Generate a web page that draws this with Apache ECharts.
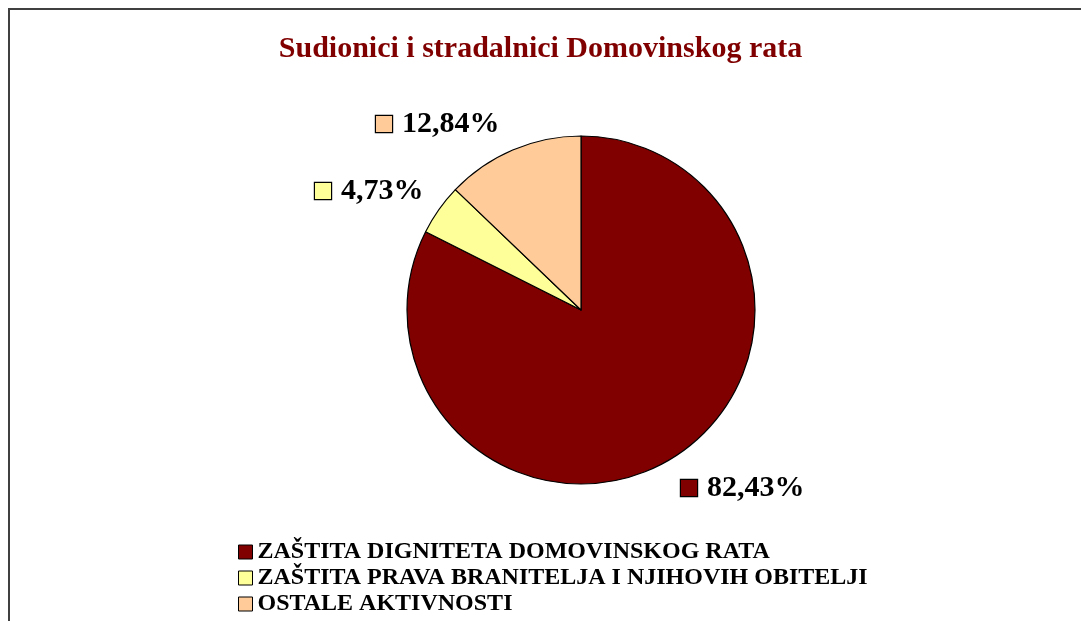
<!DOCTYPE html>
<html>
<head>
<meta charset="utf-8">
<script src="https://cdn.jsdelivr.net/npm/echarts@6/dist/echarts.min.js"></script>
<style>
  html, body { margin: 0; padding: 0; background: #fff; }
  #chart { width: 1081px; height: 621px; }
</style>
</head>
<body>
<div id="chart"></div>
<script>
const categories = [
  'ZAŠTITA DIGNITETA DOMOVINSKOG RATA',
  'ZAŠTITA PRAVA BRANITELJA I NJIHOVIH OBITELJI',
  'OSTALE AKTIVNOSTI'
];
const shares = [82.43, 4.73, 12.84];
const colors = ['#800000', '#FFFF99', '#FFCC99'];
// where each slice label sits (left edge of marker, vertical middle)
const labelPos = [[681, 488], [315, 191], [376, 124]];

const serif = '"Liberation Serif", "Times New Roman", serif';

const rich = {
  v: { fontFamily: serif, fontWeight: 'bold', fontSize: 30, color: '#000', padding: [0, 0, 0, 10] }
};
colors.forEach(function (c, i) {
  rich['m' + i] = { width: 16, height: 16, backgroundColor: c, borderColor: '#000', borderWidth: 1.2 };
});

const chart = echarts.init(document.getElementById('chart'));
chart.setOption({
  backgroundColor: '#fff',
  animation: false,
  color: colors,
  title: {
    text: 'Sudionici i stradalnici Domovinskog rata',
    left: 'center',
    top: 29,
    textStyle: { fontFamily: serif, fontWeight: 'bold', fontSize: 30, color: '#800000' }
  },
  legend: {
    orient: 'vertical',
    left: 238,
    top: 540,
    height: 150,
    padding: 0,
    itemWidth: 14,
    itemHeight: 14,
    itemGap: 2,
    icon: 'rect',
    itemStyle: { borderColor: '#000', borderWidth: 1 },
    textStyle: { fontFamily: serif, fontWeight: 'bold', fontSize: 24, lineHeight: 24, color: '#000' },
    data: categories
  },
  graphic: [{
    type: 'rect',
    shape: { x: 9, y: 9, width: 1300, height: 1000 },
    style: { fill: 'none', stroke: '#404040', lineWidth: 2 },
    silent: true
  }],
  series: [{
    type: 'pie',
    center: [581, 310],
    radius: 174,
    startAngle: 90,
    clockwise: true,
    avoidLabelOverlap: false,
    itemStyle: { borderColor: '#000', borderWidth: 1.2 },
    label: {
      show: true,
      position: 'outside',
      formatter: function (p) {
        return '{m' + p.dataIndex + '|}{v|' + p.value.toFixed(2).replace('.', ',') + '%}';
      },
      rich: rich
    },
    labelLine: { show: false },
    labelLayout: function (p) {
      const pos = labelPos[p.dataIndex];
      return { x: pos[0], y: pos[1], align: 'left', verticalAlign: 'middle' };
    },
    emphasis: { disabled: true },
    data: categories.map(function (name, i) {
      return { name: name, value: shares[i] };
    })
  }]
});
</script>
</body>
</html>
